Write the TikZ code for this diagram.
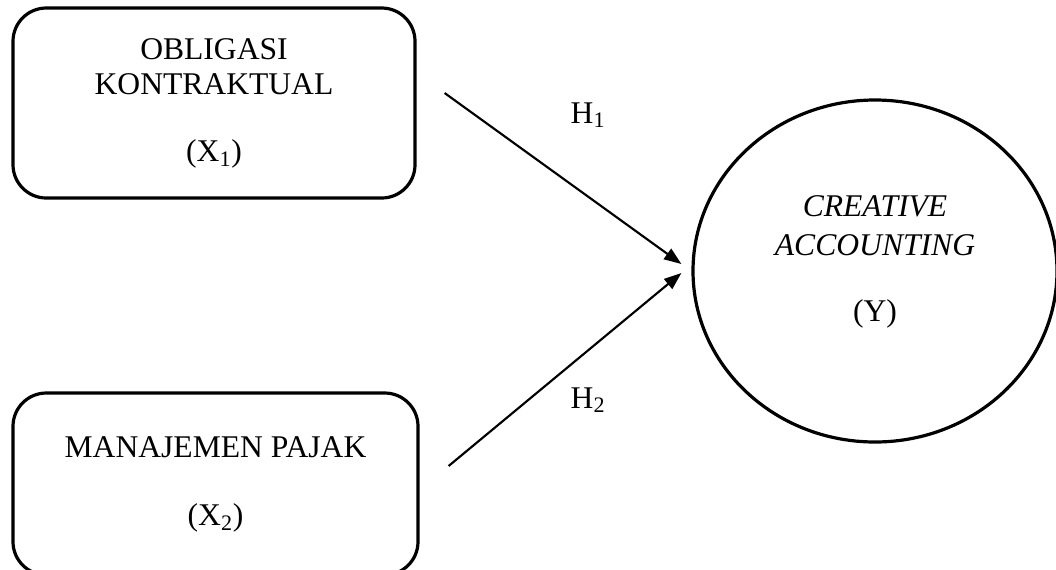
\documentclass[tikz,border=0pt]{standalone}
\usepackage{fontspec}
\setmainfont{Liberation Serif}
\usepackage{tikz}
\usetikzlibrary{arrows.meta, positioning, shapes.geometric}
\tikzset{
  varb/.style={rectangle, rounded corners=25pt, draw=black, line width=2.4pt, align=center,
              font=\fontsize{23.7pt}{26.25pt}\selectfont, inner sep=0pt},
  depb/.style={ellipse, draw=black, line width=2.4pt, inner sep=0pt,
              minimum width=273pt, minimum height=256.5pt},
  deptxt/.style={align=center, font=\fontsize{23.7pt}{29.25pt}\selectfont, inner sep=0pt},
  hyp/.style={-{Triangle[length=13pt, width=9.5pt]}, line width=1.6pt, draw=black},
  hyplbl/.style={font=\fontsize{23.7pt}{26pt}\selectfont, inner sep=0pt, anchor=base},
}

\begin{document}
\begin{tikzpicture}[x=0.75pt, y=-0.75pt]
  \useasboundingbox (0,0) rectangle (1056,569);
  \node[varb, minimum width=301.5pt, minimum height=142.5pt] (x1) at (214,103)
    {OBLIGASI\\KONTRAKTUAL\\[24pt](X\textsubscript{1})};
  \node[varb, minimum width=303.75pt, minimum height=136.5pt] (x2) at (215.5,484)
    {MANAJEMEN PAJAK\\[24.75pt](X\textsubscript{2})};
  \node[depb] (y) at (875,271) {};
  \node[deptxt] (ytxt) at (875,262) {\textit{CREATIVE}\\\textit{ACCOUNTING}\\[20.25pt](Y)};
  \node[hyplbl] (h1) at (588,123) {H\textsubscript{1}};
  \node[hyplbl] (h2) at (588,408) {H\textsubscript{2}};
  \draw[hyp] ([shift={(28,-10)}]x1.east) -- ([shift={(-10,-7)}]y.west);
  \draw[hyp] ([shift={(29,-18)}]x2.east) -- ([shift={(-10,2)}]y.west);
\end{tikzpicture}
\end{document}
